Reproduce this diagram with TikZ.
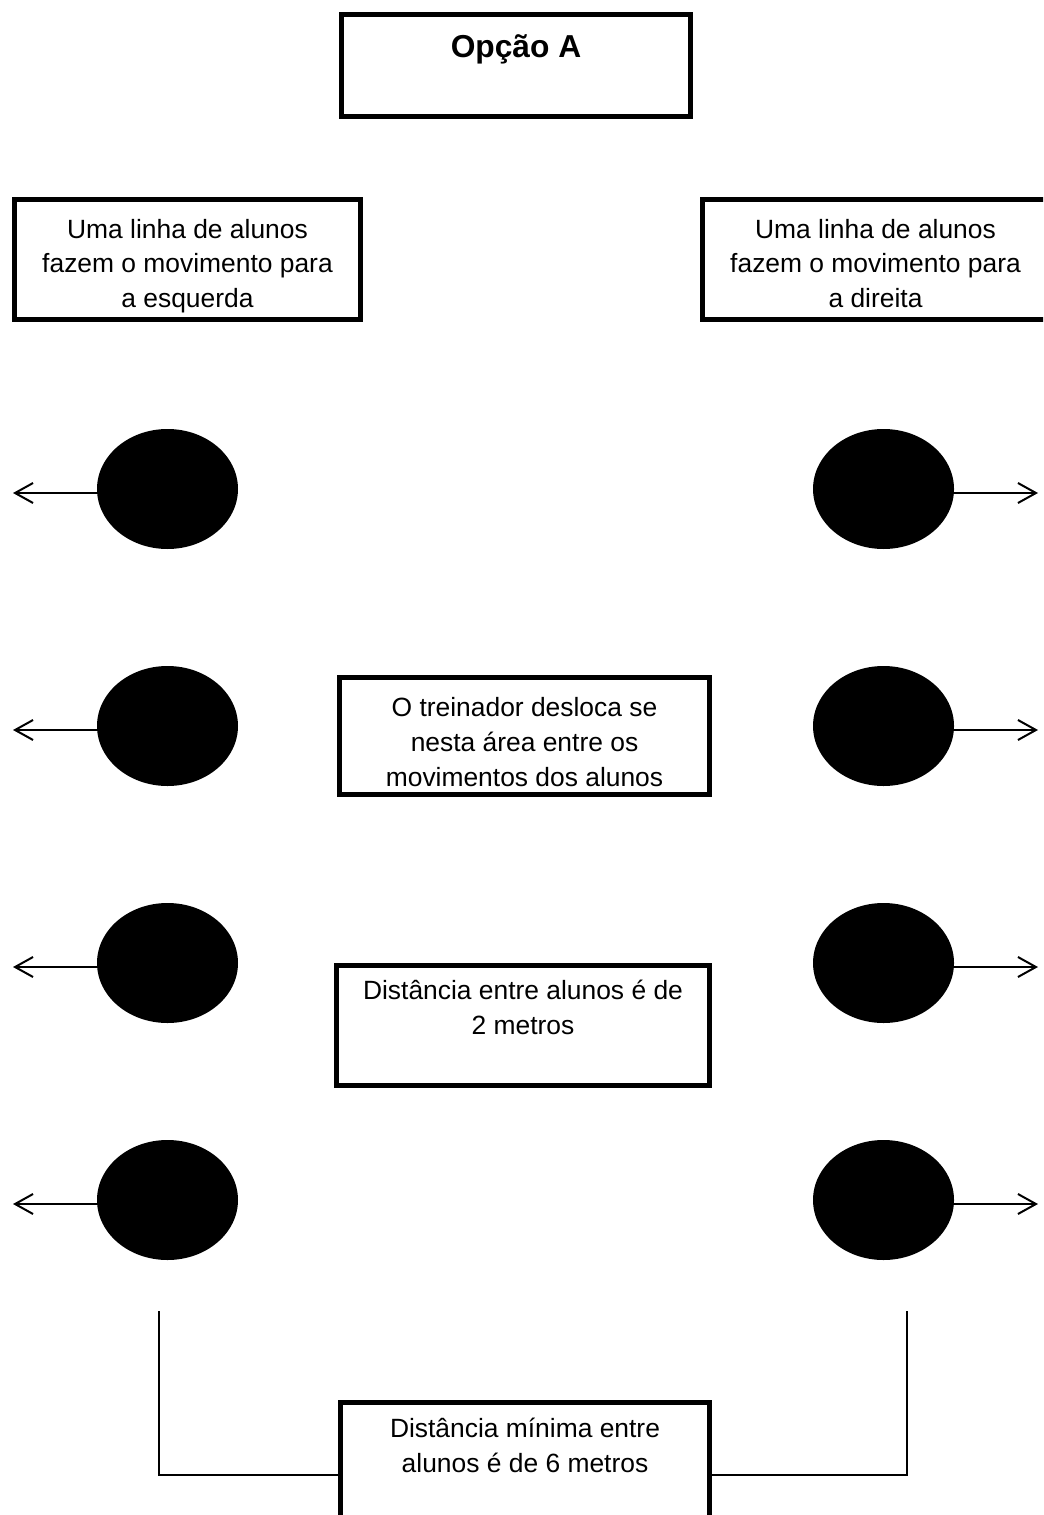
\documentclass[tikz,border=0pt]{standalone}
\usepackage{fontspec}
\setmainfont{Liberation Sans}
\usetikzlibrary{arrows.meta,shapes.geometric}
% #1 width, #2 height, #3 first baseline below top, #4 content
\newcommand{\boxtext}[4]{\begin{minipage}[c][#2][t]{#1}\centering\fontsize{19.8pt}{25.9pt}\selectfont\rule{0pt}{#3}#4\end{minipage}}
\tikzset{
  panel/.style={draw=black, line width=3.75pt, inner sep=0pt, fill=white},
  pupil/.style={ellipse, fill=black, inner sep=0pt, minimum width=105.75pt, minimum height=90pt},
  mover/.style={line width=1.5pt, -{Straight Barb[length=13.5pt,width=15pt,line width=1.5pt]}},
  bracketline/.style={line width=1.5pt}
}
\begin{document}
\begin{tikzpicture}[x=0.75pt,y=-0.75pt]
\useasboundingbox (0,0) rectangle (1043,1515);
\fill[white] (0,0) rectangle (1043,1515);
\clip (0,0) rectangle (1043,1515);

% title
\node[panel] (title) at (516,65.5) {\boxtext{261.75pt}{76.5pt}{32.6pt}{{\bfseries\fontsize{23.8pt}{28pt}\selectfont Opção A}}};

% side boxes
\node[panel] (lefthead) at (187.5,259.5) {\boxtext{259.5pt}{90pt}{28.9pt}{Uma linha de alunos\\fazem o movimento para\\a esquerda}};
\node[panel] (righthead) at (875.5,259.5) {\boxtext{259.5pt}{90pt}{28.9pt}{Uma linha de alunos\\fazem o movimento para\\a direita}};

% centre boxes
\node[panel] (coach) at (524.5,736) {\boxtext{277.5pt}{87.75pt}{29.6pt}{O treinador desloca se\\nesta área entre os\\movimentos dos alunos}};
\node[panel] (dist) at (523,1025.5) {\boxtext{279.75pt}{90pt}{25.5pt}{Distância entre alunos é de\\2 metros}};

% pupils and arrows
\foreach \i/\yy in {1/489,2/726,3/963,4/1200}{
  \node[pupil] (L\i) at (167.5,\yy) {};
  \node[pupil] (R\i) at (883.5,\yy) {};
  \coordinate (LA\i) at (13,\yy+4);
  \coordinate (RA\i) at (1038,\yy+4);
  \draw[mover] ([yshift=-3pt]L\i.west) -- (LA\i);
  \draw[mover] ([yshift=-3pt]R\i.east) -- (RA\i);
}

% bottom box and bracket
\node[panel] (minimum) at (525,1475) {\boxtext{276.75pt}{108.75pt}{26.6pt}{Distância mínima entre\\alunos é de 6 metros}};
\coordinate (bl) at (159,1311);
\coordinate (br) at (907,1311);
\draw[bracketline] (bl) |- (minimum.west);
\draw[bracketline] (br) |- (minimum.east);
\end{tikzpicture}
\end{document}
